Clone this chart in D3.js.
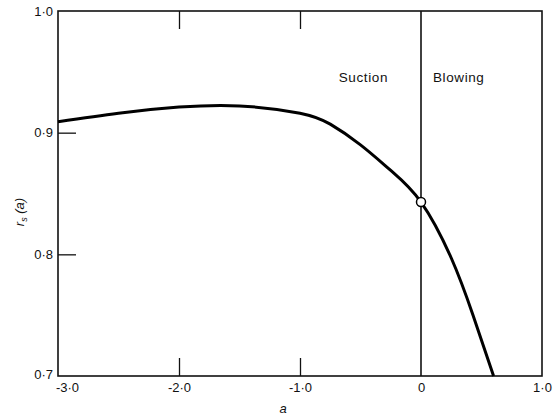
<!DOCTYPE html>
<html>
<head>
<meta charset="utf-8">
<script src="https://cdn.jsdelivr.net/npm/d3@7"></script>
<style>
  body { margin: 0; background: white; }
  text { font-family: "Liberation Sans", Arial, sans-serif; fill: #111; }
</style>
</head>
<body>
<div id="chart"></div>
<script>
// 数据：从图上读出
const aValues = [-3.0, -2.5, -2.0, -1.5, -1.0, -0.75, -0.5, -0.25, 0.0, 0.25, 0.43, 0.6]
const rsValues = [0.909, 0.916, 0.921, 0.922, 0.916, 0.907, 0.890, 0.869, 0.843, 0.797, 0.750, 0.700]
const xTicks = [-3.0, -2.0, -1.0, 0, 1.0]
const yTicks = [0.7, 0.8, 0.9, 1.0]
const regionLabels = ["Suction", "Blowing"]
const markerA = 0.0
const markerR = 0.843

const Width = 559, Height = 415
const margin = { top: 11, right: 17, bottom: 39, left: 58 }
const width = Width - margin.left - margin.right,
  height = Height - margin.top - margin.bottom

const fmt = d => d === 0 ? "0" : d3.format(".1f")(d).replace(".", "·").replace("−", "-")

const svg = d3.select("#chart").append("svg")
  .attr("width", Width)
  .attr("height", Height)

const g = svg.append("g").attr("transform", `translate(${margin.left},${margin.top})`)

// 比例尺
const xScale = d3.scaleLinear().domain([-3.0, 1.0]).range([0, width])
const yScale = d3.scaleLinear().domain([0.7, 1.0]).range([height, 0])

// 轴（刻度朝内）
const tick = 18
const xAxis = d3.axisBottom(xScale).tickValues(xTicks).tickSize(-tick).tickPadding(7).tickFormat(fmt)
const yAxis = d3.axisLeft(yScale).tickValues(yTicks).tickSize(-tick).tickPadding(5).tickFormat(fmt)

const gx = g.append("g").attr("transform", `translate(0,${height})`).call(xAxis)
const gy = g.append("g").call(yAxis)

// 顶部刻度
g.append("g").call(d3.axisTop(xScale).tickValues([-2.0, -1.0]).tickSize(-tick).tickFormat(""))

g.selectAll(".domain").remove()
g.selectAll(".tick line").attr("stroke", "#111").attr("stroke-width", 1.3)
;[gx, gy].forEach(ax => {
  ax.selectAll("text").style("font-size", "13px").style("fill", "#111")
})
// 端点刻度线不需要
gx.selectAll(".tick").filter(d => d === -3 || d === 1 || d === 0).select("line").remove()
gy.selectAll(".tick").filter(d => d === 0.7 || d === 1.0).select("line").remove()
// 角落标签稍微错开
gx.selectAll(".tick").filter(d => d === -3).select("text").attr("dx", 9)
gy.selectAll(".tick").filter(d => d === 0.7).select("text").attr("dy", "0.2em")

// 边框
g.append("rect")
  .attr("width", width).attr("height", height)
  .attr("fill", "none").attr("stroke", "#111").attr("stroke-width", 1.6)

// a = 0 竖线
g.append("line")
  .attr("x1", xScale(0)).attr("x2", xScale(0))
  .attr("y1", 0).attr("y2", height)
  .attr("stroke", "#111").attr("stroke-width", 1.6)

// 曲线
const line = d3.line()
  .x(d => xScale(d[0]))
  .y(d => yScale(d[1]))
  .curve(d3.curveNatural)

g.append("path")
  .datum(aValues.map((a, i) => [a, rsValues[i]]))
  .attr("d", line)
  .attr("fill", "none")
  .attr("stroke", "#000")
  .attr("stroke-width", 3)

// 空心圆点
g.append("circle")
  .attr("cx", xScale(markerA)).attr("cy", yScale(markerR))
  .attr("r", 4.5)
  .attr("fill", "white").attr("stroke", "#000").attr("stroke-width", 1.5)

// 区域标签
g.append("text")
  .attr("x", xScale(0) - 33).attr("y", 71)
  .attr("text-anchor", "end")
  .style("font-size", "13.5px").style("letter-spacing", "0.6px")
  .text(regionLabels[0])
g.append("text")
  .attr("x", xScale(0) + 12).attr("y", 71)
  .attr("text-anchor", "start")
  .style("font-size", "13.5px").style("letter-spacing", "0.6px")
  .text(regionLabels[1])

// 轴标签
svg.append("text")
  .attr("x", 283).attr("y", 413)
  .attr("text-anchor", "middle")
  .style("font-size", "13px").style("font-style", "italic")
  .text("a")

const yl = svg.append("text")
  .attr("transform", `translate(24,212) rotate(-90)`)
  .attr("text-anchor", "middle")
  .style("font-size", "13px").style("font-style", "italic")
yl.append("tspan").text("r")
yl.append("tspan").attr("dy", 3).style("font-size", "9px").text("s")
yl.append("tspan").attr("dy", -3).text(" (a)")
</script>
</body>
</html>
